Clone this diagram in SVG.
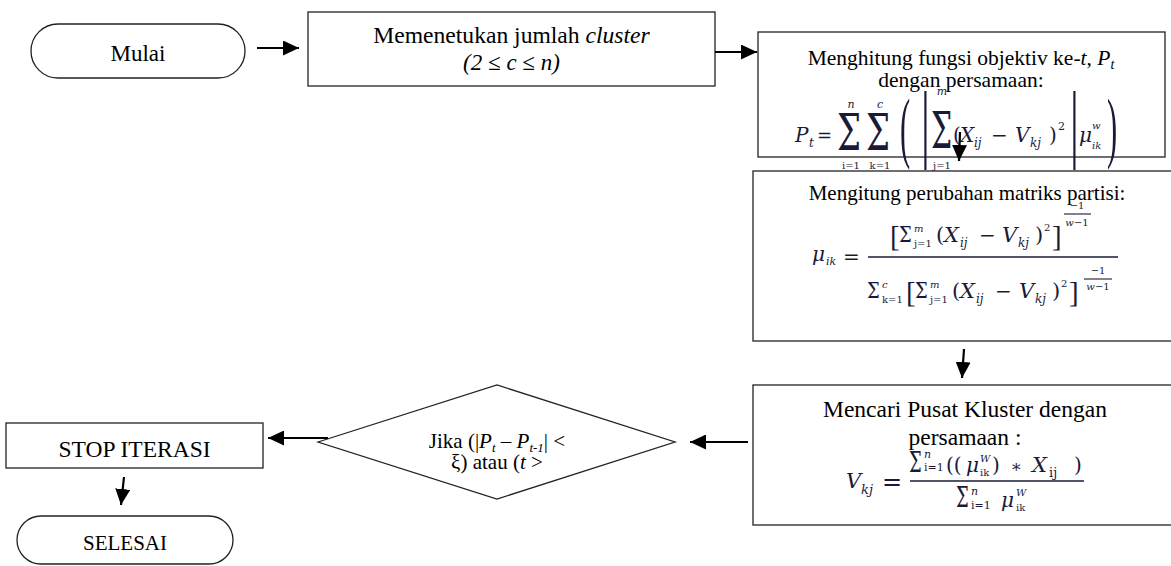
<svg xmlns="http://www.w3.org/2000/svg" width="1171" height="566" viewBox="0 0 1171 566">
<style>
.t{font-family:"Liberation Serif","Times New Roman",serif;fill:#000}
.m{font-family:"DejaVu Serif","Liberation Serif",serif;fill:#1a1a38}
.p{font-family:"Liberation Serif","Times New Roman",serif}
.i{font-style:italic}
.node{fill:#fff;stroke:#222;stroke-width:1.3}
.conn{stroke:#000;stroke-width:2.2;fill:none;marker-end:url(#ah)}
.fbar{stroke:#1a1a38;stroke-width:1.7}
.fbar2{stroke:#1a1a38;stroke-width:1.1}
</style>
<defs>
<marker id="ah" viewBox="0 0 16 15" refX="16" refY="7.5" markerWidth="16" markerHeight="15" markerUnits="userSpaceOnUse" orient="auto">
<path d="M0,0 L16,7.5 L0,15 z" fill="#000"/>
</marker>
</defs>
<rect width="1171" height="566" fill="#fff"/>

<g id="mulai">
<rect class="node" x="31" y="24" width="214" height="54" rx="27"/>
<text class="t" x="138" y="61" font-size="23" text-anchor="middle">Mulai</text>
</g>

<g id="jumlah-cluster">
<rect class="node" x="308" y="12" width="407" height="74"/>
<text class="t" x="511.5" y="43" font-size="23.6" text-anchor="middle">Memenetukan jumlah <tspan class="i">cluster</tspan></text>
<text class="t i" x="511.5" y="70" font-size="23" text-anchor="middle">(2 ≤ c ≤ n)</text>
</g>

<g id="fungsi-objektif">
<rect class="node" x="758" y="32" width="407" height="125"/>
<text class="t" x="961" y="65" font-size="21.5" text-anchor="middle">Menghitung fungsi objektiv ke-<tspan class="i">t</tspan>, <tspan class="i">P</tspan><tspan class="i" font-size="14" dy="4">t</tspan></text>
<text class="t" x="961" y="87" font-size="21.5" text-anchor="middle">dengan persamaan:</text>
<g class="m">
<text class="i" x="795" y="142" font-size="20">P</text>
<text class="i" x="809" y="147" font-size="12">t</text>
<text x="817" y="142" font-size="18">=</text>
<text x="837" y="0" font-size="34" transform="translate(0,150) scale(1,1.5)">Σ</text>
<text class="i" x="851" y="108" font-size="11" text-anchor="middle">n</text>
<text x="851" y="169" font-size="10" text-anchor="middle">i=1</text>
<text x="866" y="0" font-size="34" transform="translate(0,150) scale(1,1.5)">Σ</text>
<text class="i" x="880" y="108" font-size="11" text-anchor="middle">c</text>
<text x="880" y="169" font-size="10" text-anchor="middle">k=1</text>
<text class="p" x="0" y="0" font-size="36" transform="translate(900,153) scale(0.85,2.2)">(</text>
<text class="p" x="921" y="0" font-size="44" transform="translate(0,151) scale(1,1.95)">|</text>
<text x="931" y="0" font-size="30" transform="translate(0,148) scale(1,1.7)">Σ</text>
<text class="i" x="942" y="95" font-size="11" text-anchor="middle">m</text>
<text x="942" y="169" font-size="10" text-anchor="middle">j=1</text>
<text x="953" y="142" font-size="20">(</text>
<text class="i" x="960" y="142" font-size="20">X</text>
<text class="i" x="974" y="147" font-size="12">ij</text>
<text x="991" y="142" font-size="20">−</text>
<text class="i" x="1015" y="142" font-size="20">V</text>
<text class="i" x="1030" y="147" font-size="12">kj</text>
<text x="1049" y="142" font-size="20">)</text>
<text x="1058" y="130" font-size="11">2</text>
<text class="p" x="1070" y="0" font-size="44" transform="translate(0,151) scale(1,1.95)">|</text>
<text class="i" x="1079" y="142" font-size="20">μ</text>
<text class="i" x="1092" y="129" font-size="10">w</text>
<text class="i" x="1092" y="149" font-size="10">ik</text>
<text class="p" x="0" y="0" font-size="36" transform="translate(1107,153) scale(0.85,2.2)">)</text>
</g>
</g>

<g id="matriks-partisi">
<rect class="node" x="753" y="171" width="430" height="170"/>
<text class="t" x="967" y="200" font-size="21" text-anchor="middle">Mengitung perubahan matriks partisi:</text>
<g class="m">
<text class="i" x="812" y="261" font-size="20">μ</text>
<text class="i" x="826" y="265" font-size="11">ik</text>
<text x="843" y="264" font-size="20">=</text>
<line class="fbar" x1="868" y1="257" x2="1118" y2="257"/>
<text class="p" x="890" y="246" font-size="29">[</text>
<text x="899" y="0" font-size="18" transform="translate(0,242) scale(1,1.2)">Σ</text>
<text class="i" x="914" y="232" font-size="10">m</text>
<text x="914" y="247" font-size="10">j=1</text>
<text x="936" y="242" font-size="21">(</text>
<text class="i" x="944" y="242" font-size="21">X</text>
<text class="i" x="960" y="247" font-size="12">ij</text>
<text x="979" y="242" font-size="20">−</text>
<text class="i" x="1002" y="242" font-size="21">V</text>
<text class="i" x="1018" y="247" font-size="12">kj</text>
<text x="1035" y="242" font-size="21">)</text>
<text x="1044" y="231" font-size="10">2</text>
<text class="p" x="1052" y="246" font-size="29">]</text>
<text x="1077" y="209" font-size="10" text-anchor="middle">−1</text>
<line class="fbar2" x1="1064" y1="214" x2="1091" y2="214"/>
<text x="1077" y="226" font-size="10" text-anchor="middle"><tspan class="i">w</tspan>−1</text>
<text x="867" y="0" font-size="18" transform="translate(0,298) scale(1,1.2)">Σ</text>
<text class="i" x="882" y="288" font-size="10">c</text>
<text x="882" y="303" font-size="10">k=1</text>
<text class="p" x="906" y="302" font-size="29">[</text>
<text x="915" y="0" font-size="18" transform="translate(0,298) scale(1,1.2)">Σ</text>
<text class="i" x="930" y="288" font-size="10">m</text>
<text x="930" y="303" font-size="10">j=1</text>
<text x="952" y="298" font-size="21">(</text>
<text class="i" x="960" y="298" font-size="21">X</text>
<text class="i" x="976" y="303" font-size="12">ij</text>
<text x="995" y="298" font-size="20">−</text>
<text class="i" x="1019" y="298" font-size="21">V</text>
<text class="i" x="1035" y="303" font-size="12">kj</text>
<text x="1052" y="298" font-size="21">)</text>
<text x="1061" y="287" font-size="10">2</text>
<text class="p" x="1069" y="302" font-size="29">]</text>
<text x="1098" y="274" font-size="10" text-anchor="middle">−1</text>
<line class="fbar2" x1="1084" y1="279" x2="1112" y2="279"/>
<text x="1098" y="290" font-size="10" text-anchor="middle"><tspan class="i">w</tspan>−1</text>
</g>
</g>

<g id="pusat-kluster">
<rect class="node" x="753" y="385" width="430" height="140"/>
<text class="t" x="965" y="417" font-size="23.5" text-anchor="middle">Mencari Pusat Kluster dengan</text>
<text class="t" x="965" y="445" font-size="23.5" text-anchor="middle">persamaan :</text>
<g class="m">
<text class="i" x="846" y="488" font-size="21">V</text>
<text class="i" x="861" y="494" font-size="13">kj</text>
<text x="882" y="490" font-size="24">=</text>
<line class="fbar" x1="910" y1="481" x2="1084" y2="481"/>
<text x="909" y="0" font-size="18" transform="translate(0,472) scale(1,1.55)">Σ</text>
<text class="i" x="924" y="458" font-size="11">n</text>
<text x="924" y="471" font-size="11">i=1</text>
<text x="946" y="472" font-size="20">((</text>
<text class="i" x="966" y="472" font-size="20">μ</text>
<text class="i" x="980" y="462" font-size="10">W</text>
<text x="980" y="476" font-size="10">ik</text>
<text x="992" y="472" font-size="20">)</text>
<text x="1012" y="476" font-size="17">*</text>
<text class="i" x="1032" y="472" font-size="21">X</text>
<text x="1049" y="477" font-size="13">ij</text>
<text x="1074" y="472" font-size="20">)</text>
<text x="956" y="0" font-size="18" transform="translate(0,507) scale(1,1.55)">Σ</text>
<text class="i" x="971" y="495" font-size="11">n</text>
<text x="971" y="509" font-size="11">i=1</text>
<text class="i" x="1001" y="507" font-size="20">μ</text>
<text class="i" x="1016" y="496" font-size="10">W</text>
<text x="1016" y="511" font-size="10">ik</text>
</g>
</g>

<g id="kondisi">
<polygon class="node" points="318,442 497,385 675,442 497,499"/>
<text class="t" x="497" y="448" font-size="21" text-anchor="middle">Jika (|<tspan class="i">P</tspan><tspan class="i" font-size="13" dy="4">t</tspan><tspan dy="-4"> – </tspan><tspan class="i">P</tspan><tspan class="i" font-size="13" dy="4">t-1</tspan><tspan dy="-4">| &lt;</tspan></text>
<text class="t" x="497" y="469" font-size="21" text-anchor="middle">ξ) atau (<tspan class="i">t</tspan> &gt;</text>
</g>

<g id="stop-iterasi">
<rect class="node" x="6" y="423" width="257" height="45"/>
<text class="t" x="134.5" y="457" font-size="23.5" text-anchor="middle">STOP ITERASI</text>
</g>

<g id="selesai">
<rect class="node" x="17" y="516" width="216" height="48" rx="24"/>
<text class="t" x="125" y="550" font-size="21" text-anchor="middle">SELESAI</text>
</g>

<g id="connectors">
<path class="conn" d="M257,48 L299,48"/>
<path class="conn" d="M715,52 L757,52"/>
<path class="conn" d="M960,132 L959,161"/>
<path class="conn" d="M964,349 L962,378"/>
<path class="conn" d="M748,442 L690,442"/>
<path class="conn" d="M328,438 L268,438"/>
<path class="conn" d="M124,477 L121,505"/>
</g>
</svg>
